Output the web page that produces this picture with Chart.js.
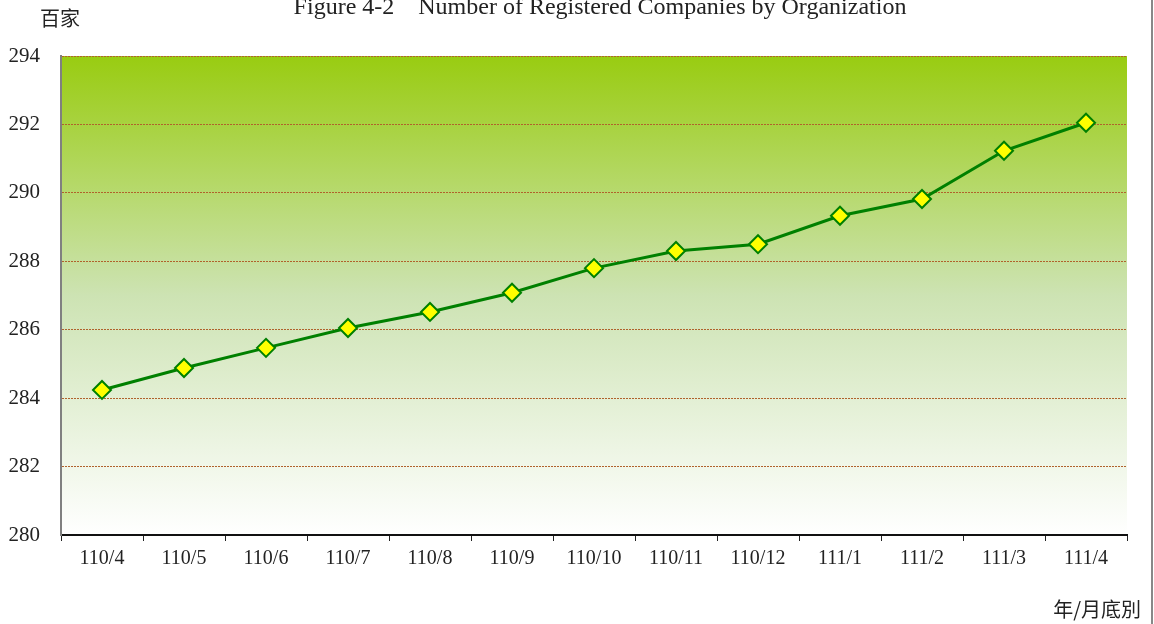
<!DOCTYPE html>
<html>
<head>
<meta charset="utf-8">
<script src="https://cdn.jsdelivr.net/npm/chart.js@4"></script>
<style>
  html, body { margin: 0; padding: 0; background: #fff; }
  #wrap { width: 1154px; height: 624px; }
</style>
</head>
<body>
<div id="wrap"><canvas id="grafico" width="1154" height="624"></canvas></div>
<script>
// dados
const meses = ['110/4', '110/5', '110/6', '110/7', '110/8', '110/9', '110/10', '110/11', '110/12', '111/1', '111/2', '111/3', '111/4'];
const empresas = [284.24, 284.88, 285.47, 286.05, 286.52, 287.08, 287.80, 288.30, 288.50, 289.33, 289.82, 291.23, 292.05];
const yTicks = [280, 282, 284, 286, 288, 290, 292, 294];

const titulo = 'Figure 4-2    Number of Registered Companies by Organization';
const unidade = '百家';
const rotuloX = '年/月底別';

const serif = '"Liberation Serif", "Times New Roman", serif';
const cjk = '"Noto Sans CJK TC", "Noto Sans CJK SC", sans-serif';

// fundo em degrade + textos soltos
const decoracao = {
    id: 'decoracao',
    beforeDraw(chart) {
        const { ctx, chartArea: a } = chart;
        const g = ctx.createLinearGradient(0, a.top, 0, a.bottom);
        g.addColorStop(0, '#99cc11');
        g.addColorStop(0.5, '#cde3b3');
        g.addColorStop(1, '#ffffff');
        ctx.save();
        ctx.fillStyle = g;
        ctx.fillRect(a.left, a.top, a.right - a.left, a.bottom - a.top);
        ctx.restore();
    },
    afterDraw(chart) {
        const { ctx } = chart;
        ctx.save();
        ctx.fillStyle = '#222';
        ctx.textBaseline = 'alphabetic';
        ctx.font = '24px ' + serif;
        ctx.textAlign = 'center';
        ctx.fillText(titulo, 600, 14);
        ctx.font = '20px ' + cjk;
        ctx.textAlign = 'left';
        ctx.fillText(unidade, 40, 26);
        ctx.textAlign = 'right';
        ctx.fillText(rotuloX, 1141, 617);
        ctx.strokeStyle = '#888';
        ctx.lineWidth = 2;
        ctx.beginPath();
        ctx.moveTo(1152, 0);
        ctx.lineTo(1152, 624);
        ctx.stroke();
        ctx.restore();
    }
};

new Chart(document.getElementById('grafico').getContext('2d'), {
    type: 'line',
    data: {
        labels: meses,
        datasets: [{
            data: empresas,
            borderColor: '#008000',
            borderWidth: 3,
            pointStyle: 'rectRot',
            pointRadius: 9,
            pointHoverRadius: 9,
            pointBackgroundColor: '#ffff00',
            pointBorderColor: '#008000',
            pointBorderWidth: 2,
            tension: 0
        }]
    },
    options: {
        responsive: false,
        animation: false,
        layout: { padding: { top: 56, right: 27, left: 0, bottom: 0 } },
        plugins: {
            legend: { display: false },
            tooltip: { enabled: false },
            title: { display: false }
        },
        scales: {
            x: {
                offset: true,
                grid: {
                    offset: true,
                    drawOnChartArea: false,
                    drawTicks: true,
                    tickLength: 6,
                    color: '#222',
                    lineWidth: 1
                },
                border: { display: true, color: '#111', width: 2 },
                ticks: {
                    color: '#222',
                    font: { family: serif, size: 20 },
                    padding: 6,
                    maxRotation: 0,
                    autoSkip: false
                },
                afterFit(scale) { scale.height = 89; }
            },
            y: {
                min: 280,
                max: 294,
                afterBuildTicks(scale) { scale.ticks = yTicks.map(v => ({ value: v })); },
                grid: {
                    drawTicks: false,
                    color: '#b0622c',
                    lineWidth: 1
                },
                border: { display: true, color: '#808080', width: 2, dash: [2, 1] },
                ticks: {
                    color: '#222',
                    font: { family: serif, size: 21 },
                    padding: 21
                },
                afterFit(scale) { scale.width = 61; }
            }
        }
    },
    plugins: [decoracao]
});
</script>
</body>
</html>
